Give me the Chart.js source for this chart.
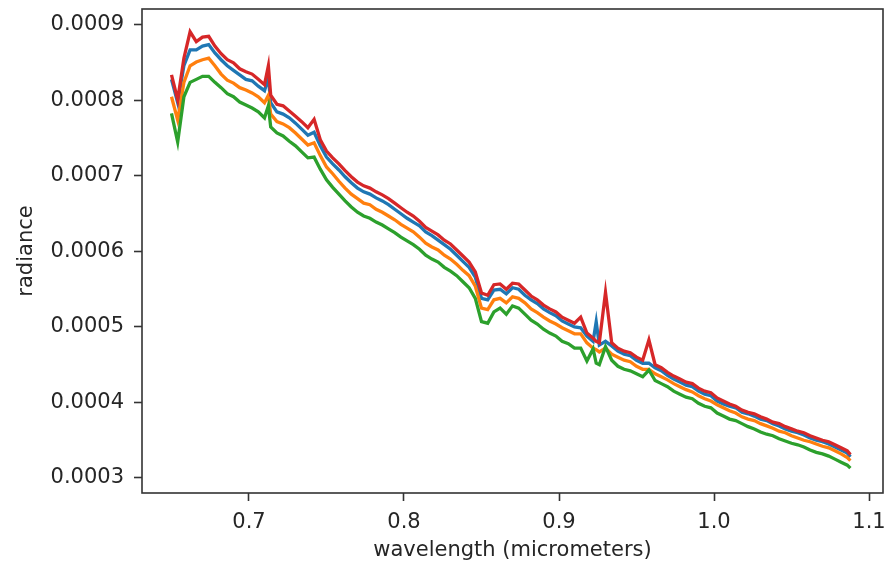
<!DOCTYPE html>
<html>
<head>
<meta charset="utf-8">
<script src="https://cdn.jsdelivr.net/npm/chart.js@4"></script>
<style>
  html, body { margin: 0; padding: 0; background: #fff; }
</style>
</head>
<body>
<canvas id="specChart" width="886" height="567"></canvas>
<script>
// wavelength grid (micrometers), shared by all four spectra
var wavelength = [
  0.650, 0.654, 0.658, 0.662, 0.666, 0.670, 0.674, 0.678, 0.682, 0.686,
  0.690, 0.694, 0.698, 0.702, 0.706, 0.710, 0.7125, 0.714, 0.718, 0.722,
  0.726, 0.730, 0.734, 0.738, 0.742, 0.746, 0.750, 0.754, 0.758, 0.762,
  0.766, 0.770, 0.774, 0.778, 0.782, 0.786, 0.790, 0.794, 0.798, 0.802,
  0.806, 0.810, 0.814, 0.818, 0.822, 0.826, 0.830, 0.834, 0.838, 0.842,
  0.846, 0.850, 0.854, 0.858, 0.862, 0.866, 0.870, 0.874, 0.878, 0.882,
  0.886, 0.890, 0.894, 0.898, 0.902, 0.906, 0.910, 0.914, 0.918, 0.922,
  0.924, 0.926, 0.930, 0.934, 0.938, 0.942, 0.946, 0.950, 0.954, 0.958,
  0.962, 0.966, 0.970, 0.974, 0.978, 0.982, 0.986, 0.990, 0.994, 0.998,
  1.002, 1.006, 1.010, 1.014, 1.018, 1.022, 1.026, 1.030, 1.034, 1.038,
  1.042, 1.046, 1.050, 1.054, 1.058, 1.062, 1.066, 1.070, 1.074, 1.078,
  1.082, 1.086, 1.088
];

// radiance of each spectrum
var spec1 = [
  8.28e-4, 7.97e-4, 8.46e-4, 8.67e-4, 8.67e-4, 8.72e-4, 8.74e-4, 8.63e-4, 8.54e-4, 8.46e-4,
  8.40e-4, 8.34e-4, 8.28e-4, 8.26e-4, 8.19e-4, 8.13e-4, 8.30e-4, 7.97e-4, 7.85e-4, 7.82e-4,
  7.77e-4, 7.70e-4, 7.62e-4, 7.54e-4, 7.58e-4, 7.40e-4, 7.25e-4, 7.16e-4, 7.08e-4, 6.99e-4,
  6.91e-4, 6.84e-4, 6.79e-4, 6.76e-4, 6.71e-4, 6.67e-4, 6.62e-4, 6.56e-4, 6.50e-4, 6.44e-4,
  6.39e-4, 6.34e-4, 6.26e-4, 6.21e-4, 6.15e-4, 6.09e-4, 6.03e-4, 5.95e-4, 5.87e-4, 5.79e-4,
  5.66e-4, 5.38e-4, 5.36e-4, 5.49e-4, 5.50e-4, 5.44e-4, 5.52e-4, 5.50e-4, 5.42e-4, 5.36e-4,
  5.31e-4, 5.24e-4, 5.19e-4, 5.15e-4, 5.08e-4, 5.04e-4, 5.00e-4, 4.99e-4, 4.88e-4, 4.81e-4,
  5.07e-4, 4.76e-4, 4.81e-4, 4.75e-4, 4.68e-4, 4.64e-4, 4.62e-4, 4.56e-4, 4.52e-4, 4.52e-4,
  4.46e-4, 4.42e-4, 4.36e-4, 4.31e-4, 4.27e-4, 4.23e-4, 4.21e-4, 4.15e-4, 4.11e-4, 4.09e-4,
  4.02e-4, 3.98e-4, 3.95e-4, 3.93e-4, 3.87e-4, 3.85e-4, 3.82e-4, 3.78e-4, 3.76e-4, 3.72e-4,
  3.69e-4, 3.65e-4, 3.62e-4, 3.60e-4, 3.57e-4, 3.53e-4, 3.50e-4, 3.48e-4, 3.45e-4, 3.41e-4,
  3.37e-4, 3.33e-4, 3.28e-4
];
var spec2 = [
  8.05e-4, 7.74e-4, 8.24e-4, 8.46e-4, 8.51e-4, 8.54e-4, 8.56e-4, 8.46e-4, 8.35e-4, 8.27e-4,
  8.23e-4, 8.17e-4, 8.14e-4, 8.10e-4, 8.05e-4, 7.97e-4, 8.07e-4, 7.82e-4, 7.72e-4, 7.69e-4,
  7.64e-4, 7.57e-4, 7.49e-4, 7.41e-4, 7.44e-4, 7.27e-4, 7.12e-4, 7.03e-4, 6.93e-4, 6.84e-4,
  6.76e-4, 6.70e-4, 6.64e-4, 6.62e-4, 6.56e-4, 6.52e-4, 6.47e-4, 6.42e-4, 6.36e-4, 6.31e-4,
  6.26e-4, 6.19e-4, 6.11e-4, 6.06e-4, 6.02e-4, 5.95e-4, 5.90e-4, 5.83e-4, 5.75e-4, 5.68e-4,
  5.54e-4, 5.25e-4, 5.23e-4, 5.36e-4, 5.38e-4, 5.32e-4, 5.40e-4, 5.38e-4, 5.32e-4, 5.24e-4,
  5.19e-4, 5.13e-4, 5.08e-4, 5.04e-4, 4.99e-4, 4.95e-4, 4.91e-4, 4.91e-4, 4.79e-4, 4.72e-4,
  4.70e-4, 4.67e-4, 4.72e-4, 4.64e-4, 4.60e-4, 4.56e-4, 4.54e-4, 4.48e-4, 4.44e-4, 4.44e-4,
  4.38e-4, 4.34e-4, 4.30e-4, 4.25e-4, 4.21e-4, 4.17e-4, 4.14e-4, 4.09e-4, 4.05e-4, 4.02e-4,
  3.97e-4, 3.93e-4, 3.89e-4, 3.86e-4, 3.81e-4, 3.78e-4, 3.76e-4, 3.72e-4, 3.69e-4, 3.66e-4,
  3.62e-4, 3.60e-4, 3.56e-4, 3.53e-4, 3.50e-4, 3.48e-4, 3.45e-4, 3.42e-4, 3.40e-4, 3.36e-4,
  3.32e-4, 3.27e-4, 3.23e-4
];
var spec3 = [
  7.83e-4, 7.45e-4, 8.05e-4, 8.24e-4, 8.28e-4, 8.32e-4, 8.32e-4, 8.24e-4, 8.17e-4, 8.09e-4,
  8.05e-4, 7.98e-4, 7.94e-4, 7.90e-4, 7.85e-4, 7.77e-4, 7.93e-4, 7.65e-4, 7.57e-4, 7.53e-4,
  7.46e-4, 7.40e-4, 7.32e-4, 7.24e-4, 7.25e-4, 7.09e-4, 6.95e-4, 6.85e-4, 6.76e-4, 6.67e-4,
  6.59e-4, 6.52e-4, 6.47e-4, 6.44e-4, 6.39e-4, 6.35e-4, 6.30e-4, 6.25e-4, 6.19e-4, 6.14e-4,
  6.09e-4, 6.03e-4, 5.95e-4, 5.90e-4, 5.86e-4, 5.79e-4, 5.74e-4, 5.68e-4, 5.60e-4, 5.52e-4,
  5.38e-4, 5.07e-4, 5.05e-4, 5.20e-4, 5.25e-4, 5.17e-4, 5.28e-4, 5.25e-4, 5.17e-4, 5.09e-4,
  5.04e-4, 4.97e-4, 4.92e-4, 4.88e-4, 4.81e-4, 4.78e-4, 4.72e-4, 4.72e-4, 4.55e-4, 4.71e-4,
  4.52e-4, 4.50e-4, 4.74e-4, 4.56e-4, 4.48e-4, 4.44e-4, 4.42e-4, 4.38e-4, 4.34e-4, 4.43e-4,
  4.29e-4, 4.25e-4, 4.21e-4, 4.15e-4, 4.11e-4, 4.07e-4, 4.05e-4, 3.99e-4, 3.95e-4, 3.93e-4,
  3.86e-4, 3.82e-4, 3.78e-4, 3.76e-4, 3.72e-4, 3.68e-4, 3.65e-4, 3.61e-4, 3.58e-4, 3.56e-4,
  3.52e-4, 3.49e-4, 3.46e-4, 3.44e-4, 3.41e-4, 3.37e-4, 3.34e-4, 3.32e-4, 3.29e-4, 3.25e-4,
  3.21e-4, 3.17e-4, 3.13e-4
];
var spec4 = [
  8.34e-4, 8.01e-4, 8.56e-4, 8.91e-4, 8.78e-4, 8.84e-4, 8.85e-4, 8.72e-4, 8.62e-4, 8.54e-4,
  8.50e-4, 8.42e-4, 8.38e-4, 8.35e-4, 8.28e-4, 8.21e-4, 8.46e-4, 8.07e-4, 7.95e-4, 7.93e-4,
  7.86e-4, 7.79e-4, 7.72e-4, 7.64e-4, 7.75e-4, 7.48e-4, 7.33e-4, 7.24e-4, 7.16e-4, 7.07e-4,
  6.99e-4, 6.92e-4, 6.87e-4, 6.84e-4, 6.79e-4, 6.75e-4, 6.70e-4, 6.64e-4, 6.58e-4, 6.52e-4,
  6.47e-4, 6.40e-4, 6.32e-4, 6.27e-4, 6.22e-4, 6.15e-4, 6.10e-4, 6.02e-4, 5.94e-4, 5.86e-4,
  5.73e-4, 5.45e-4, 5.42e-4, 5.56e-4, 5.57e-4, 5.50e-4, 5.58e-4, 5.57e-4, 5.49e-4, 5.41e-4,
  5.36e-4, 5.29e-4, 5.24e-4, 5.20e-4, 5.13e-4, 5.09e-4, 5.05e-4, 5.13e-4, 4.92e-4, 4.85e-4,
  4.81e-4, 4.79e-4, 5.46e-4, 4.79e-4, 4.72e-4, 4.68e-4, 4.66e-4, 4.60e-4, 4.56e-4, 4.83e-4,
  4.50e-4, 4.46e-4, 4.40e-4, 4.35e-4, 4.31e-4, 4.27e-4, 4.25e-4, 4.19e-4, 4.15e-4, 4.13e-4,
  4.06e-4, 4.02e-4, 3.98e-4, 3.95e-4, 3.90e-4, 3.87e-4, 3.85e-4, 3.81e-4, 3.78e-4, 3.74e-4,
  3.72e-4, 3.68e-4, 3.65e-4, 3.62e-4, 3.60e-4, 3.56e-4, 3.53e-4, 3.50e-4, 3.48e-4, 3.44e-4,
  3.40e-4, 3.36e-4, 3.31e-4
];

var xTicks = [0.7, 0.8, 0.9, 1.0, 1.1];
var yTicks = [0.0003, 0.0004, 0.0005, 0.0006, 0.0007, 0.0008, 0.0009];

var seriesList = [spec1, spec2, spec3, spec4];
var seriesColors = ['#1f77b4', '#ff7f0e', '#2ca02c', '#d62728'];

var textColor = '#262626';
var axisColor = '#333333';
var tickFont = { family: 'DejaVu Sans', size: 21 };

function toPoints(values) {
    return wavelength.map(function (w, i) {
        return { x: w, y: values[i] };
    });
}

// later series sit on top, like the plotting order
var datasets = seriesList.map(function (values, i) {
    return {
        data: toPoints(values),
        borderColor: seriesColors[i],
        borderWidth: 3.3,
        pointRadius: 0,
        fill: false,
        tension: 0,
        order: seriesList.length - i
    };
});

// box around the plotting area
var framePlugin = {
    id: 'frame',
    afterDatasetsDraw: function (chart) {
        var a = chart.chartArea;
        var ctx = chart.ctx;
        ctx.save();
        ctx.strokeStyle = axisColor;
        ctx.lineWidth = 1.6;
        ctx.strokeRect(a.left, a.top, a.right - a.left, a.bottom - a.top);
        ctx.restore();
    }
};

new Chart(document.getElementById('specChart'), {
    type: 'line',
    data: { datasets: datasets },
    plugins: [framePlugin],
    options: {
        responsive: false,
        animation: false,
        devicePixelRatio: 1,
        layout: { padding: { top: 9, right: 3, left: 0, bottom: 0 } },
        plugins: {
            legend: { display: false },
            tooltip: { enabled: false }
        },
        scales: {
            x: {
                type: 'linear',
                min: 0.63097,
                max: 1.10903,
                afterBuildTicks: function (scale) {
                    scale.ticks = xTicks.map(function (v) { return { value: v }; });
                },
                afterFit: function (scale) {
                    scale.height = 74;
                    scale.paddingLeft = 0;
                    scale.paddingRight = 0;
                },
                border: { display: false },
                grid: {
                    drawOnChartArea: false,
                    drawTicks: true,
                    tickLength: 8,
                    tickWidth: 1.6,
                    tickColor: axisColor
                },
                ticks: {
                    color: textColor,
                    font: tickFont,
                    padding: 9,
                    maxRotation: 0,
                    callback: function (v) { return v.toFixed(1); }
                },
                title: {
                    display: true,
                    text: 'wavelength (micrometers)',
                    color: textColor,
                    font: tickFont,
                    padding: { top: 0, bottom: 4 }
                }
            },
            y: {
                type: 'linear',
                min: 0.00028013,
                max: 0.00092119,
                afterBuildTicks: function (scale) {
                    scale.ticks = yTicks.map(function (v) { return { value: v }; });
                },
                afterFit: function (scale) {
                    scale.width = 142;
                    scale.paddingTop = 0;
                    scale.paddingBottom = 0;
                },
                border: { display: false },
                grid: {
                    drawOnChartArea: false,
                    drawTicks: true,
                    tickLength: 8,
                    tickWidth: 1.6,
                    tickColor: axisColor
                },
                ticks: {
                    color: textColor,
                    font: tickFont,
                    padding: 10,
                    callback: function (v) { return v.toFixed(4); }
                },
                title: {
                    display: true,
                    text: 'radiance',
                    color: textColor,
                    font: tickFont,
                    padding: { top: 14, bottom: 0 }
                }
            }
        }
    }
});
</script>
</body>
</html>
